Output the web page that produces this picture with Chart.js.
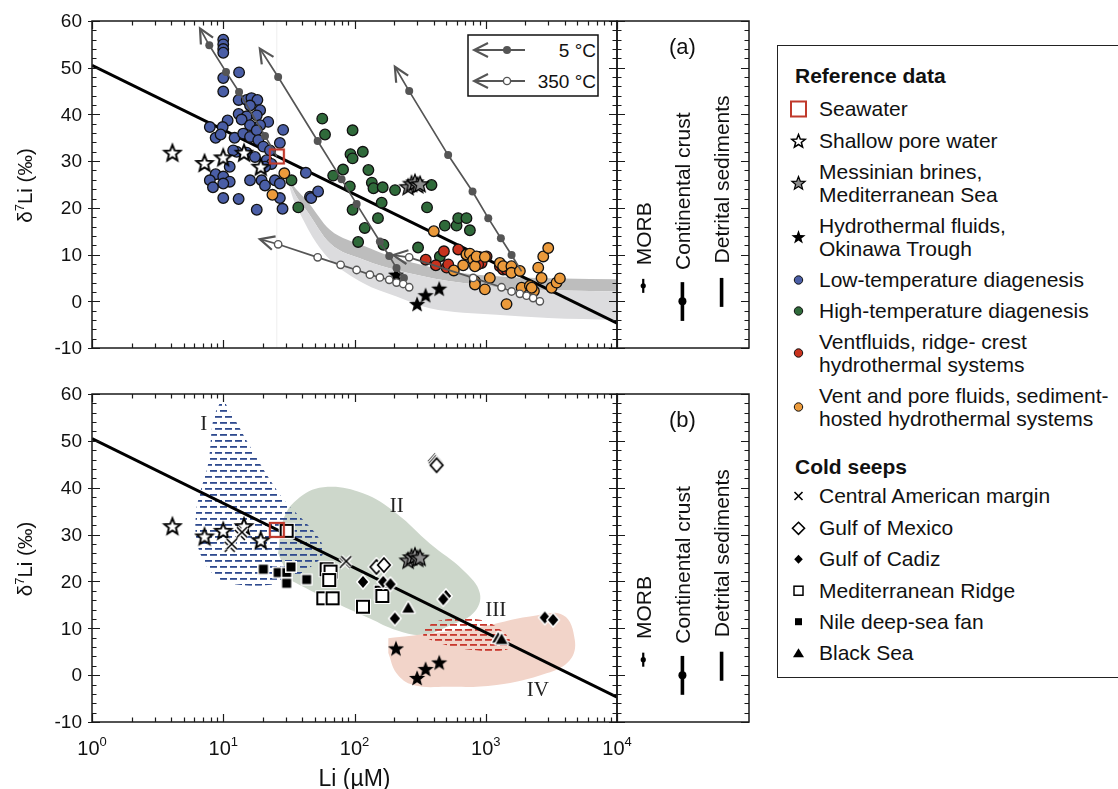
<!DOCTYPE html>
<html>
<head>
<meta charset="utf-8">
<title>Li isotopes vs Li concentration</title>
<script src="https://cdn.jsdelivr.net/npm/chart.js"></script>
<style>
  html, body { margin:0; padding:0; background:#fff; }
  body { width:1118px; height:789px; position:relative; overflow:hidden; font-family:'Liberation Sans', Arial, sans-serif; color:#111; }
  canvas { position:absolute; }
  .t { position:absolute; font-size:21px; line-height:23px; white-space:nowrap; }
  .b { font-weight:bold; }
  svg { position:absolute; overflow:visible; }
</style>
</head>
<body>
<canvas id="cA" width="640" height="370" style="left:0;top:0"></canvas>
<canvas id="cAS" width="170" height="370" style="left:600px;top:0"></canvas>
<canvas id="cB" width="640" height="415" style="left:0;top:374px"></canvas>
<canvas id="cBS" width="170" height="415" style="left:600px;top:374px"></canvas>

<div class="t" style="left:669px;top:35px;font-size:22px">(a)</div>
<div class="t" style="left:669px;top:408px;font-size:22px">(b)</div>

<svg style="left:466px;top:33px" width="136" height="66" font-family="'Liberation Sans', Arial, sans-serif">
  <rect x="2" y="2" width="130" height="61" fill="#fff" stroke="#111" stroke-width="1.5"/>
  <line x1="8" y1="17" x2="59" y2="17" stroke="#555" stroke-width="1.8"/>
  <polyline points="22,10 8,17 22,24" fill="none" stroke="#555" stroke-width="2"/>
  <circle cx="41" cy="17" r="4" fill="#555"/>
  <text x="130" y="24" text-anchor="end" font-size="19" fill="#111">5 °C</text>
  <line x1="8" y1="48" x2="59" y2="48" stroke="#555" stroke-width="1.8"/>
  <polyline points="22,41 8,48 22,55" fill="none" stroke="#555" stroke-width="2"/>
  <circle cx="41" cy="48" r="3.6" fill="#fff" stroke="#555" stroke-width="1.4"/>
  <text x="130" y="55" text-anchor="end" font-size="19" fill="#111">350 °C</text>
</svg>

<div style="position:absolute;left:777px;top:45px;width:380px;height:633px;border:1.4px solid #222;box-sizing:border-box;"></div>
<svg id="legSym" style="left:777px;top:45px" width="60" height="633"></svg>
<div class="t b" style="left:795px;top:64px">Reference data</div>
<div class="t" style="left:819px;top:97px">Seawater</div>
<div class="t" style="left:819px;top:129px">Shallow pore water</div>
<div class="t" style="left:819px;top:160px">Messinian brines,<br>Mediterranean Sea</div>
<div class="t" style="left:819px;top:214px">Hydrothermal fluids,<br>Okinawa Trough</div>
<div class="t" style="left:819px;top:268px">Low-temperature diagenesis</div>
<div class="t" style="left:819px;top:299px">High-temperature diagenesis</div>
<div class="t" style="left:819px;top:330px">Ventfluids, ridge- crest<br>hydrothermal systems</div>
<div class="t" style="left:819px;top:384px">Vent and pore fluids, sediment-<br>hosted hydrothermal systems</div>
<div class="t b" style="left:795px;top:455px">Cold seeps</div>
<div class="t" style="left:819px;top:484px">Central American margin</div>
<div class="t" style="left:819px;top:516px">Gulf of Mexico</div>
<div class="t" style="left:819px;top:547px">Gulf of Cadiz</div>
<div class="t" style="left:819px;top:579px">Mediterranean Ridge</div>
<div class="t" style="left:819px;top:610px">Nile deep-sea fan</div>
<div class="t" style="left:819px;top:641px">Black Sea</div>

<script>
// ===================== DATA =====================
const xTicks = [1, 10, 100, 1000, 10000];
const xTickExp = ['0', '1', '2', '3', '4'];
const yTicks = [-10, 0, 10, 20, 30, 40, 50, 60];

const seawater = [[25.6, 31]];
const regressionLine = [[1, 50.5], [10000, -4.7]];

const shallowPoreWater = [[4.1,31.8],[7.2,29.6],[10,30.8],[14.4,31.8],[19.3,28.8]];
const messinianBrines = [[256,24.5],[272,25.2],[289,25.5],[303,24.9],[316,25.1]];
const okinawaTrough = [[207,5.7],[300,-0.6],[348,1.3],[442,2.7]];

const lowTempDiagenesis = [[10,56],[10,55],[10,54],[10,53.2],[13.2,49],[10,47.8],[10,44.9],[13.1,43.1],[15.1,43.1],[16.4,43.5],[18.2,43.1],[16,41.9],[19.1,40.9],[13.1,40.1],[15.1,39.6],[18,39.8],[10.8,38.7],[22,38.4],[13.8,38.9],[16,37.7],[19.1,37.7],[9.9,37.3],[7.9,37.3],[8.75,35],[9.55,35.7],[12.2,35],[14.2,35.9],[16,35.2],[18,36.6],[18.5,34.5],[12.65,32],[15.1,31.8],[17.45,30.9],[20.2,33.1],[21.4,30.2],[23.3,29.4],[20.8,28.8],[28.6,36.7],[27,33.9],[22.7,32.3],[11.9,32.3],[11.2,28.8],[8.75,27.2],[7.9,25.9],[8.35,24.4],[10,26.7],[11.2,25.6],[10,25.2],[16,25.9],[19.6,25.9],[20.8,24.8],[24.75,25.9],[27,25.2],[10,22.1],[13.1,21.9],[18,19.6],[27,22.1],[28.3,19.8],[42.6,27.5],[45.8,22.4],[46.8,22.1],[52.8,23.5]];
const highTempDiagenesis = [[96.7,36.6],[93.2,31.5],[96.7,30.6],[115.7,32],[81.8,28.2],[68.8,26.9],[127.6,28.1],[135.5,25.4],[139.5,24.2],[164,24.4],[203.6,23.8],[96.7,19.6],[161,21.1],[151,17.8],[119.7,15.7],[106.6,12.7],[166,12.1],[357,20.1],[386,24.9],[305,11.5],[487.6,16.2],[599,16.2],[617,17.8],[713,17.8],[757,15.2],[447,9.6],[33.1,25.9],[37.3,20.1],[56.8,39.1],[59.6,35.7],[92.1,24.6]];
const ridgeCrestVents = [[349,8.9],[416.5,7.7],[480,10.7],[503,7.2],[518,7.9],[617,11.1],[713,10],[850,8.6],[891,9.5],[929,8.2],[1015,9.6],[875,7.9],[1281,7.5],[1357,6.8],[1440,6.8]];
const sedimentHostedVents = [[29.2,27.4],[23.7,22.8],[402,15.0],[571,6.6],[673,7.7],[713,10.0],[757,10.2],[803,8.9],[827,7.5],[850,9.6],[985,9.5],[1074,5.0],[985,2.55],[827,4.3],[827,3.6],[1281,8.2],[1357,7.5],[1569,7.5],[1569,6.1],[1820,6.5],[1875,2.9],[2169,3.3],[2328,2.2],[2511,7.2],[2742,9.6],[2993,11.4],[2663,5.0],[3174,2.9],[3464,4.0],[3671,4.9],[1440,-0.6],[2237,2.9]];

// mixing trajectories (first point = arrow tip)
const mix5C_1 = [[6.65,58.4],[7.83,54.8],[10.5,49.1],[13.2,44.8],[20.8,35.4],[25.6,31]];
const mix5C_2 = [[19.0,54.1],[26.2,48.0],[52.4,34.3],[79.7,26.1],[103.8,20.8],[156,12.8],[184,9.7],[209,7.1],[238,5.0]];
const mix5C_3 = [[203,50.2],[261,45.0],[517,31.3],[793,23.5],[1045,17.8],[1304,13.5],[1573,9.9],[1874,6.4]];
const mix350C_1 = [[19.0,13.3],[26.2,12.2],[52.4,9.4],[78.4,7.8],[103.8,6.7],[131,5.7],[156,5.1],[184,4.6],[209,4.0],[235,3.7],[261,3.0]];
const mix350C_2 = [[197,9.9],[261,9.4],[802,5.0],[1319,3.0],[1573,2.1],[1820,1.6],[2046,1.2],[2297,0.7],[2583,0]];

// shaded model bands (panel a)
const bandDarkUpper = [[30.4,26.7],[36,24],[43,21.7],[65,15.3],[120,11.8],[209,9.2],[400,7.2],[673,6.0],[1500,5.2],[10000,4.7]];
const bandDarkLower = [[30.4,26.7],[36,22.5],[43,19.5],[65,12.4],[120,8.8],[209,6.7],[400,4.9],[673,3.9],[1500,2.8],[10000,2.1]];
const bandLightLower = [[30.4,26.7],[34,22],[38.4,18.8],[51.4,12.4],[65,8.9],[116,3.9],[209,1.0],[375,-1.5],[1209,-2.9],[3000,-3.6],[10000,-4.0]];

// fields (panel b)
const regionI = [[9.44,58.2],[8.39,54.5],[7.69,45.2],[6.65,38.8],[6.2,34.5],[6.27,28.8],[7.25,23.9],[8.9,21.0],[11.2,19.5],[25.5,19.5],[43.2,22.5],[57.8,26.0],[54.5,28.9],[40.7,33.1],[30.4,36.7],[22.7,41.7],[16.0,48.8],[11.9,55.2],[10.3,58.2]];
const regionII = [[26.2,26],[28.6,33.1],[36.2,37.4],[57.8,40.1],[116,38.8],[209,34.5],[375,28.1],[673,22.4],[902,17.5],[802,13.2],[503,10.3],[334,8.6],[209,9.6],[131,12.1],[65,16],[32.2,20.3]];
const regionIII = [[334,10.0],[474,11.8],[902,11.8],[1209,10.3],[1527,7.5],[1440,5.4],[757,5.4],[447,6.8],[334,8.2]];
const regionIV = [[181,7.9],[375,8.9],[902,10.3],[2168,12.5],[3890,12.8],[4770,7.5],[4370,3.2],[2904,0.4],[1209,-2.1],[503,-2.5],[280,-2.1],[209,0.4],[181,4.7]];
const regionLabels = ['I', 'II', 'III', 'IV'];
const regionLabelAt = [[7.1,53.4],[210,36.1],[1194,13.7],[2494,-3.3]];

// cold seeps (panel b)
const centralAmerican = [[13.4,29.9],[13.9,30.5],[11.2,27.4],[11.6,28.0],[84.5,24.0],[86.5,24.3]];
const gulfMexico = [[410,45.7],[416,45.3],[422,44.8],[147,23.1],[167.5,23.5]];
const gulfCadiz = [[116,19.9],[165.5,19.9],[188,19.4],[497,16.9],[474,16.2],[203,12.1],[2818,12.3],[3260,11.8]];
const medRidge = [[30.4,30.8],[61.3,22.6],[65.7,22.1],[64.2,20.3],[57.8,16.4],[68.1,16.4],[116,14.6],[161,17.6],[163,16.9]];
const nileFan = [[20.2,22.6],[26.2,21.9],[30.4,21.9],[32.8,23.1],[30.4,19.6],[43.2,20.4]];
const blackSea = [[257,14.3],[1245,7.9],[1320,7.6]];

// end-members (side panels)
const endMembers = ['MORB', 'Continental crust', 'Detrital sediments'];
const endMemberLow = [1.8, -4.2, -1.2];
const endMemberHigh = [4.8, 4.1, 5.0];
const endMemberMid = [3.3, 0, null];
const endMemberLabelStart = [7.7, 6.7, 8.1];

// ===================== HELPERS =====================
const F = "'Liberation Sans', Arial, sans-serif";
Chart.defaults.font.family = F;
Chart.defaults.color = '#111';
const pts = arr => arr.map(([x, y]) => ({x, y}));

function mk(w, h, fn) {
  const c = document.createElement('canvas'); c.width = w; c.height = h;
  const g = c.getContext('2d'); fn(g, w / 2, h / 2); return c;
}
function starPath(g, cx, cy, R, r) {
  g.beginPath();
  for (let i = 0; i < 10; i++) {
    const a = -Math.PI / 2 + i * Math.PI / 5, rr = i % 2 ? r : R;
    g.lineTo(cx + rr * Math.cos(a), cy + rr * Math.sin(a));
  }
  g.closePath();
}
const mStarWhite = mk(22, 22, (g, cx, cy) => { starPath(g, cx, cy + 0.7, 8.5, 3.7); g.fillStyle = '#fff'; g.fill(); g.lineJoin = 'miter'; g.lineWidth = 1.9; g.strokeStyle = '#000'; g.stroke(); });
const mStarGrey = mk(22, 22, (g, cx, cy) => { starPath(g, cx, cy + 0.7, 8.5, 3.7); g.fillStyle = '#8c8c8c'; g.fill(); g.lineWidth = 1.3; g.strokeStyle = '#000'; g.stroke(); });
const mStarBlack = mk(22, 22, (g, cx, cy) => { starPath(g, cx, cy + 0.7, 8.5, 3.6); g.fillStyle = '#000'; g.fill(); });
const mSeawater = mk(18, 18, (g) => { g.strokeStyle = '#c0392b'; g.lineWidth = 2.2; g.strokeRect(2, 2, 14, 14); });
const mCross = mk(16, 16, (g, cx, cy) => {
  const d = 5; g.lineCap = 'butt';
  [['#fff', 4], ['#000', 1.5]].forEach(([c, w]) => { g.strokeStyle = c; g.lineWidth = w; g.beginPath(); g.moveTo(cx - d, cy - d); g.lineTo(cx + d, cy + d); g.moveTo(cx + d, cy - d); g.lineTo(cx - d, cy + d); g.stroke(); });
});
const diamond = (g, cx, cy, hx, hy) => { g.beginPath(); g.moveTo(cx, cy - hy); g.lineTo(cx + hx, cy); g.lineTo(cx, cy + hy); g.lineTo(cx - hx, cy); g.closePath(); };
const mDiamondOpen = mk(20, 20, (g, cx, cy) => { diamond(g, cx, cy, 6.2, 7); g.lineWidth = 4.5; g.strokeStyle = '#fff'; g.stroke(); g.fillStyle = '#fff'; g.fill(); g.lineWidth = 1.8; g.strokeStyle = '#000'; g.stroke(); });
const mDiamondFill = mk(18, 18, (g, cx, cy) => { diamond(g, cx, cy, 5.2, 6); g.lineWidth = 3; g.strokeStyle = '#fff'; g.stroke(); g.fillStyle = '#000'; g.fill(); });
const mSquareOpen = mk(20, 20, (g, cx, cy) => { g.fillStyle = '#fff'; g.fillRect(cx - 8, cy - 8, 16, 16); g.strokeStyle = '#000'; g.lineWidth = 2; g.strokeRect(cx - 6, cy - 6, 12, 12); });
const mSquareFill = mk(14, 14, (g, cx, cy) => { g.fillStyle = '#fff'; g.fillRect(cx - 6, cy - 6, 12, 12); g.fillStyle = '#000'; g.fillRect(cx - 4.5, cy - 4.5, 9, 9); });
const mTriangle = mk(18, 18, (g, cx, cy) => { g.beginPath(); g.moveTo(cx, cy - 6); g.lineTo(cx + 6, cy + 4.5); g.lineTo(cx - 6, cy + 4.5); g.closePath(); g.lineJoin = 'round'; g.lineWidth = 3; g.strokeStyle = '#fff'; g.stroke(); g.fillStyle = '#000'; g.fill(); });

function hatch(color, gap) {
  const c = document.createElement('canvas'); c.width = 10; c.height = gap * 2;
  const g = c.getContext('2d'); g.fillStyle = color;
  g.fillRect(0, 0, 7, 1.8); g.fillRect(5, gap, 7, 1.8); g.fillRect(-5, gap, 7, 1.8);
  return g.createPattern(c, 'repeat');
}

// ===================== PLUGINS =====================
const frame = {
  id: 'frame',
  afterDatasetsDraw(chart, args, o) {
    const {ctx, chartArea: a} = chart; const xs = chart.scales.x, ys = chart.scales.y;
    ctx.save(); ctx.strokeStyle = '#1a1a1a'; ctx.lineWidth = 1.2; ctx.beginPath();
    const seg = (x1, y1, x2, y2) => { ctx.moveTo(x1, y1); ctx.lineTo(x2, y2); };
    for (let v = yTicks[0]; v <= yTicks[yTicks.length - 1]; v += 2) {
      const py = Math.round(ys.getPixelForValue(v)) + 0.5;
      const major = yTicks.includes(v), L = major ? 8 : 4.5;
      if (o.yl) seg(a.left, py, a.left + L, py);
      if (o.yr) seg(a.right - L, py, a.right, py);
      if (o.yOut && major) seg(a.left - 4, py, a.left, py);
    }
    if (o.xt || o.xb) {
      for (let d = 0; d < xTicks.length; d++) {
        for (let m = 1; m <= 9; m++) {
          if (d === xTicks.length - 1 && m > 1) break;
          const px = Math.round(xs.getPixelForValue(xTicks[d] * m)) + 0.5, L = m === 1 ? 8 : 4.5;
          if (o.xt) seg(px, a.top, px, a.top + L);
          if (o.xb) seg(px, a.bottom, px, a.bottom - L);
        }
      }
    }
    ctx.stroke();
    ctx.lineWidth = 1.5;
    ctx.strokeRect(a.left, a.top, a.right - a.left, a.bottom - a.top);
    ctx.restore();
  }
};

const arrowHeads = {
  id: 'arrowHeads',
  afterDatasetsDraw(chart) {
    const ctx = chart.ctx;
    chart.data.datasets.forEach((ds, i) => {
      if (!ds.arrow) return;
      const m = chart.getDatasetMeta(i); const p0 = m.data[0], p1 = m.data[1];
      const ang = Math.atan2(p1.y - p0.y, p1.x - p0.x), L = 16, s = 0.45;
      ctx.save(); ctx.strokeStyle = '#555'; ctx.lineWidth = 2.2; ctx.lineJoin = 'miter';
      ctx.beginPath();
      ctx.moveTo(p0.x + L * Math.cos(ang + s), p0.y + L * Math.sin(ang + s));
      ctx.lineTo(p0.x, p0.y);
      ctx.lineTo(p0.x + L * Math.cos(ang - s), p0.y + L * Math.sin(ang - s));
      ctx.stroke(); ctx.restore();
    });
  }
};

function drawRich(ctx, parts, cx, baseY) {
  let total = 0;
  parts.forEach(p => { ctx.font = p[1] + 'px ' + F; p.w = ctx.measureText(p[0]).width; total += p.w; });
  let x = cx - total / 2; ctx.textAlign = 'left'; ctx.textBaseline = 'alphabetic';
  parts.forEach(p => { ctx.font = p[1] + 'px ' + F; ctx.fillText(p[0], x, baseY + p[2]); x += p.w; });
}

const axisText = {
  id: 'axisText',
  afterDraw(chart, args, o) {
    const {ctx, chartArea: a} = chart; const xs = chart.scales.x, ys = chart.scales.y;
    ctx.save(); ctx.fillStyle = '#111';
    if (o.yLabels) {
      ctx.font = '19px ' + F; ctx.textAlign = 'right'; ctx.textBaseline = 'middle';
      yTicks.forEach(v => ctx.fillText(String(v), a.left - 10, ys.getPixelForValue(v) + 1));
    }
    if (o.yTitle) {
      ctx.save(); ctx.translate(25, (a.top + a.bottom) / 2 + 1); ctx.rotate(-Math.PI / 2);
      drawRich(ctx, [['δ', 20.5, 0], ['7', 13, -8], ['Li (‰)', 20.5, 0]], 0, 7.3);
      ctx.restore();
    }
    if (o.xLabels) {
      xTicks.forEach((v, i) => drawRich(ctx, [['10', 20, 0], [xTickExp[i], 13, -9]], xs.getPixelForValue(v), a.bottom + 33));
    }
    if (o.xTitle) {
      ctx.font = '23px ' + F; ctx.textAlign = 'center'; ctx.textBaseline = 'alphabetic';
      ctx.fillText('Li (µM)', (a.left + a.right) / 2, a.bottom + 64);
    }
    if (o.regions) {
      ctx.font = "21px 'Liberation Serif', 'Times New Roman', serif"; ctx.textAlign = 'center'; ctx.textBaseline = 'middle';
      ctx.fillStyle = '#222';
      regionLabels.forEach((t, i) => ctx.fillText(t, xs.getPixelForValue(regionLabelAt[i][0]), ys.getPixelForValue(regionLabelAt[i][1])));
    }
    if (o.side) {
      ctx.font = '21px ' + F; ctx.textAlign = 'left'; ctx.textBaseline = 'alphabetic';
      endMembers.forEach((t, i) => {
        ctx.save(); ctx.translate(xs.getPixelForValue(i), ys.getPixelForValue(endMemberLabelStart[i])); ctx.rotate(-Math.PI / 2);
        ctx.fillText(t, 0, 7.5); ctx.restore();
      });
    }
    ctx.restore();
  }
};

// ===================== DATASET BUILDERS =====================
const curveRadius = r => c => (c.dataIndex === 0 || (c.dataset.noEndDot && c.dataIndex === c.dataset.data.length - 1)) ? 0 : r;
const circles = (data, color, order) => ({data: pts(data), pointStyle: 'circle', pointRadius: 5.3, pointBackgroundColor: color, pointBorderColor: '#111', pointBorderWidth: 1.3, order});
const icons = (data, style, order) => ({data: pts(data), pointStyle: style, pointRadius: 6, order});
const curve5 = (data, order, noEnd) => ({type: 'line', data: pts(data), borderColor: '#555', borderWidth: 1.7, fill: false, tension: 0, arrow: true, noEndDot: !!noEnd, pointRadius: curveRadius(4), pointBackgroundColor: '#555', pointBorderColor: '#555', pointBorderWidth: 0, order});
const curve350 = (data, order) => ({type: 'line', data: pts(data), borderColor: '#555', borderWidth: 1.7, fill: false, tension: 0, arrow: true, pointRadius: curveRadius(3.7), pointBackgroundColor: '#fff', pointBorderColor: '#555', pointBorderWidth: 1.4, order});
const shape = (data, fillStyle, order) => ({type: 'line', data: pts(data), borderColor: 'rgba(0,0,0,0)', backgroundColor: fillStyle, fill: 'shape', tension: 0.4, pointRadius: 0, order});
const baseOpts = (padding, xLog, plug) => ({
  responsive: false, animation: false, events: [],
  layout: {padding},
  scales: {
    x: xLog ? {type: 'logarithmic', min: 1, max: 10000, display: false} : {type: 'linear', min: -0.67, max: 2.7, display: false},
    y: {type: 'linear', min: -10, max: 60, display: false}
  },
  plugins: Object.assign({legend: {display: false}, tooltip: {enabled: false}}, plug)
});

// ===================== PANEL (a) =====================
new Chart(document.getElementById('cA'), {
  type: 'scatter',
  data: {datasets: [
    {type: 'line', data: pts(bandDarkUpper), borderColor: 'rgba(0,0,0,0)', pointRadius: 0, fill: false, cubicInterpolationMode: 'monotone', order: 60},
    {type: 'line', data: pts(bandDarkLower), borderColor: 'rgba(0,0,0,0)', backgroundColor: '#bdbdbd', pointRadius: 0, fill: '-1', cubicInterpolationMode: 'monotone', order: 59},
    {type: 'line', data: pts(bandLightLower), borderColor: 'rgba(0,0,0,0)', backgroundColor: '#dcdcde', pointRadius: 0, fill: '-1', cubicInterpolationMode: 'monotone', order: 58},
    {type: 'line', data: [{x: seawater[0][0], y: -10}, {x: seawater[0][0], y: 60}], borderColor: '#eeeeee', borderWidth: 1, pointRadius: 0, fill: false, order: 57},
    {type: 'line', data: pts(regressionLine), borderColor: '#000', borderWidth: 3, pointRadius: 0, fill: false, order: 50},
    circles(lowTempDiagenesis, '#4a5ea6', 40),
    circles(highTempDiagenesis, '#2f6a3a', 39),
    circles(ridgeCrestVents, '#c8321e', 38),
    circles(sedimentHostedVents, '#eb9a3b', 37),
    icons(shallowPoreWater, mStarWhite, 30),
    icons(okinawaTrough, mStarBlack, 29),
    icons(messinianBrines, mStarGrey, 28),
    curve5(mix5C_1, 20, true),
    curve5(mix5C_2, 19, false),
    curve5(mix5C_3, 18, true),
    curve350(mix350C_1, 17),
    curve350(mix350C_2, 16),
    icons(seawater, mSeawater, 1)
  ]},
  options: baseOpts({left: 92, top: 21, right: 23, bottom: 22}, true, {
    frame: {yl: true, yr: true, xt: true, xb: true, yOut: true},
    axisText: {yLabels: true, yTitle: true}
  }),
  plugins: [arrowHeads, frame, axisText]
});

// ===================== PANEL (b) =====================
new Chart(document.getElementById('cB'), {
  type: 'scatter',
  data: {datasets: [
    shape(regionII, '#cdd7cb', 60),
    shape(regionI, hatch('#2e4a8e', 6), 59),
    shape(regionIV, '#f2d4c9', 58),
    shape(regionIII, hatch('#c8372d', 5), 57),
    {type: 'line', data: pts(regressionLine), borderColor: '#000', borderWidth: 3, pointRadius: 0, fill: false, order: 50},
    icons(shallowPoreWater, mStarWhite, 30),
    icons(okinawaTrough, mStarBlack, 29),
    icons(messinianBrines, mStarGrey, 28),
    icons(medRidge, mSquareOpen, 27),
    icons(nileFan, mSquareFill, 26),
    icons(gulfMexico, mDiamondOpen, 25),
    icons(gulfCadiz, mDiamondFill, 24),
    icons(blackSea, mTriangle, 23),
    icons(centralAmerican, mCross, 22),
    icons(seawater, mSeawater, 1)
  ]},
  options: baseOpts({left: 92, top: 20, right: 23, bottom: 67}, true, {
    frame: {yl: true, yr: true, xt: true, xb: true, yOut: true},
    axisText: {yLabels: true, yTitle: true, xLabels: true, xTitle: true, regions: true}
  }),
  plugins: [frame, axisText]
});

// ===================== SIDE PANELS =====================
function sideDatasets() {
  const ds = endMembers.map((n, i) => ({type: 'line', data: [{x: i, y: endMemberLow[i]}, {x: i, y: endMemberHigh[i]}], borderColor: '#000', borderWidth: [2.2, 3.6, 3.6][i], borderCapStyle: 'butt', pointRadius: 0, fill: false, order: 5}));
  const mids = []; const rad = [];
  endMemberMid.forEach((v, i) => { if (v !== null) { mids.push({x: i, y: v}); rad.push(i === 0 ? 2.6 : 4); } });
  ds.push({data: mids, pointStyle: 'circle', pointRadius: rad, pointBackgroundColor: '#000', pointBorderWidth: 0, order: 1});
  return ds;
}
new Chart(document.getElementById('cAS'), {
  type: 'scatter', data: {datasets: sideDatasets()},
  options: baseOpts({left: 17, top: 21, right: 21, bottom: 22}, false, {frame: {yl: true, yr: true}, axisText: {side: true}}),
  plugins: [frame, axisText]
});
new Chart(document.getElementById('cBS'), {
  type: 'scatter', data: {datasets: sideDatasets()},
  options: baseOpts({left: 17, top: 20, right: 21, bottom: 67}, false, {frame: {yl: true, yr: true}, axisText: {side: true}}),
  plugins: [frame, axisText]
});

// ===================== LEGEND SYMBOLS =====================
(function () {
  const svg = document.getElementById('legSym');
  const star = (cx, cy, R, r) => { let p = []; for (let i = 0; i < 10; i++) { const a = -Math.PI / 2 + i * Math.PI / 5, rr = i % 2 ? r : R; p.push((cx + rr * Math.cos(a)).toFixed(2) + ',' + (cy + rr * Math.sin(a)).toFixed(2)); } return p.join(' '); };
  const cx = 21.5;
  let s = '';
  s += `<rect x="${cx - 7.5}" y="56.5" width="15" height="15" fill="none" stroke="#c0392b" stroke-width="2"/>`;
  s += `<polygon points="${star(cx, 96.5, 7, 3)}" fill="#fff" stroke="#000" stroke-width="1.5"/>`;
  s += `<polygon points="${star(cx, 138.5, 7, 3)}" fill="#8c8c8c" stroke="#000" stroke-width="1.2"/>`;
  s += `<polygon points="${star(cx, 192.5, 7.5, 3)}" fill="#000"/>`;
  [[235, '#4a5ea6'], [266, '#2f6a3a'], [308, '#c8321e'], [362, '#eb9a3b']].forEach(([y, c]) => { s += `<circle cx="${cx}" cy="${y}" r="4.2" fill="${c}" stroke="#111" stroke-width="1"/>`; });
  s += `<path d="M${cx - 4} 447 L${cx + 4} 455 M${cx + 4} 447 L${cx - 4} 455" stroke="#000" stroke-width="1.6"/>`;
  s += `<polygon points="${cx},477.3 ${cx + 6},483.3 ${cx},489.3 ${cx - 6},483.3" fill="#fff" stroke="#000" stroke-width="1.6"/>`;
  s += `<polygon points="${cx},509.8 ${cx + 4.3},514.3 ${cx},518.8 ${cx - 4.3},514.3" fill="#000"/>`;
  s += `<rect x="${cx - 4.5}" y="541.2" width="9" height="9" fill="#fff" stroke="#000" stroke-width="1.5"/>`;
  s += `<rect x="${cx - 3.5}" y="573.2" width="7" height="7" fill="#000"/>`;
  s += `<polygon points="${cx},603.3 ${cx + 5.5},612.3 ${cx - 5.5},612.3" fill="#000"/>`;
  svg.innerHTML = s;
})();
</script>
</body>
</html>
